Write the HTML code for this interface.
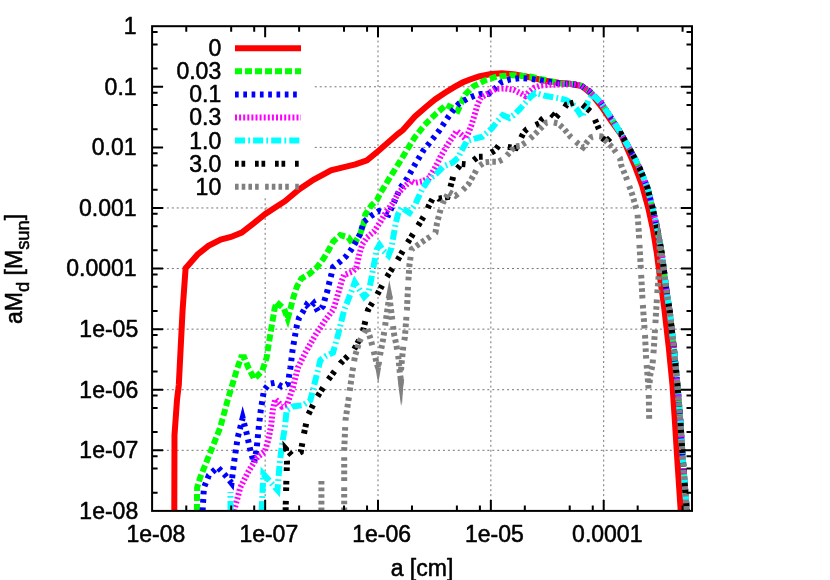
<!DOCTYPE html>
<html><head><meta charset="utf-8"><title>plot</title>
<style>
html,body{margin:0;padding:0;background:#fff;}
body{width:830px;height:580px;overflow:hidden;}
svg{display:block;}
text{font-family:"Liberation Sans",sans-serif;fill:#000;stroke:#000;stroke-width:0.55px;stroke-linejoin:round;}
.tx{opacity:0.999;}
</style></head><body>
<svg width="830" height="580" viewBox="0 0 830 580">
<rect x="0" y="0" width="830" height="580" fill="#ffffff"/>
<defs><clipPath id="plotclip"><rect x="152.1" y="26.2" width="539.9" height="484.7"/></clipPath></defs>

<g stroke="#000" stroke-opacity="0.55" stroke-width="1" stroke-dasharray="2 2.93" fill="none">
<line x1="152.1" y1="86.79" x2="692.0" y2="86.79"/>
<line x1="152.1" y1="147.38" x2="692.0" y2="147.38"/>
<line x1="152.1" y1="207.96" x2="692.0" y2="207.96"/>
<line x1="152.1" y1="268.55" x2="692.0" y2="268.55"/>
<line x1="152.1" y1="329.14" x2="692.0" y2="329.14"/>
<line x1="152.1" y1="389.72" x2="692.0" y2="389.72"/>
<line x1="152.1" y1="450.31" x2="692.0" y2="450.31"/>
<line x1="265.15" y1="510.9" x2="265.15" y2="26.2"/>
<line x1="378.00" y1="510.9" x2="378.00" y2="26.2"/>
<line x1="490.85" y1="510.9" x2="490.85" y2="26.2"/>
<line x1="603.70" y1="510.9" x2="603.70" y2="26.2"/>
</g>
<rect x="153.1" y="27.2" width="159.9" height="170.3" fill="#fff"/>
<g clip-path="url(#plotclip)" fill="none" stroke-width="6" stroke-linejoin="miter" stroke-miterlimit="10" stroke-linecap="butt">
<polyline stroke="#ff0000" points="174.3,512.0 174.5,435.0 177.0,400.0 178.8,385.0 182.6,310.0 185.6,268.2 197.6,254.5 208.4,245.8 220.7,239.6 230.9,237.0 241.7,232.6 253.3,223.6 265.3,214.0 277.9,205.8 285.0,201.2 299.0,189.5 313.4,179.8 331.0,170.4 343.0,167.3 355.4,164.4 367.0,160.3 378.3,151.0 398.0,133.8 402.9,130.0 415.0,116.5 425.0,107.7 435.0,99.5 445.0,92.8 455.0,86.7 463.0,82.3 470.0,79.5 479.0,76.3 491.0,74.0 502.1,73.2 515.1,74.4 529.6,77.3 544.1,80.5 558.6,82.7 570.0,83.7 581.7,86.0 591.4,93.8 601.8,107.1 611.6,121.5 621.2,134.8 629.7,154.1 634.5,165.0 642.0,185.0 648.2,207.6 653.1,230.2 656.8,252.7 659.7,275.3 662.9,297.8 664.5,310.0 668.8,347.6 672.5,385.2 675.0,422.8 677.0,455.0 680.8,512.0"/>
<polyline stroke="#00ff00" stroke-dasharray="7 3" points="196.9,511.0 197.1,487.7 200.1,477.7 210.2,452.6 220.2,427.6 227.7,400.0 232.6,383.8 236.9,369.5 241.2,357.2 244.2,357.2 248.5,368.0 254.3,378.9 262.2,370.9 266.6,357.9 268.8,343.4 271.7,326.1 274.6,308.7 276.7,302.2 284.0,308.7 287.7,318.6 290.5,308.7 292.6,300.0 294.0,295.3 296.9,286.6 301.3,278.6 309.9,273.6 317.2,267.0 323.7,258.4 328.8,249.7 333.1,241.7 340.3,235.2 348.3,237.4 353.5,244.8 359.9,234.5 363.5,224.3 365.3,214.5 371.1,205.8 376.9,200.0 380.0,193.8 388.7,179.4 398.8,163.4 407.5,149.0 414.7,137.4 424.5,125.1 436.1,113.6 446.2,104.9 457.8,110.7 465.0,94.7 473.7,86.1 485.3,80.3 496.9,76.6 511.3,75.2 530.0,76.6 545.0,80.0 560.0,83.5 572.0,84.0 581.0,85.5 589.8,91.6 601.3,103.2 610.0,116.2 620.0,132.1 628.0,146.0 634.5,158.0 640.0,169.0 647.5,188.0 652.5,207.6 657.5,230.2 661.7,252.7 664.5,275.3 667.5,297.8 669.6,310.0 673.8,347.6 677.5,385.2 680.5,422.8 682.5,455.0 686.8,511.0"/>
<polyline stroke="#0000ff" stroke-dasharray="3.7 4.6" points="202.6,511.0 203.9,487.7 208.9,475.2 217.7,467.2 225.2,475.2 231.5,483.0 234.0,462.7 237.7,437.6 242.7,418.0 246.5,432.6 250.3,450.1 254.0,463.0 256.5,450.1 259.0,425.1 260.8,410.0 264.0,390.2 269.0,383.9 275.3,382.7 281.6,386.4 287.8,383.9 290.4,367.6 292.6,350.0 294.8,337.0 297.0,325.0 299.2,317.4 302.2,313.0 306.5,305.2 309.4,308.1 313.8,303.3 318.1,311.5 323.0,306.2 324.9,299.0 327.3,291.2 329.2,283.0 331.2,275.3 333.1,267.0 339.6,262.0 346.1,256.2 351.2,249.7 355.5,242.4 359.9,234.5 363.9,221.7 371.1,215.9 379.0,211.0 388.5,214.5 392.8,205.0 400.3,188.0 407.5,177.9 414.7,164.9 423.4,150.4 428.8,143.8 439.0,130.9 447.6,117.9 453.4,109.9 459.2,103.4 467.9,98.4 475.1,95.5 480.9,94.0 488.2,94.0 495.4,88.2 501.2,82.4 509.9,79.5 520.0,78.1 530.0,78.8 545.0,81.0 560.0,83.5 572.0,84.0 581.0,85.5 589.8,91.6 601.3,103.2 610.0,116.2 620.0,132.1 628.0,146.0 634.5,158.0 640.0,169.0 647.5,188.0 652.5,207.6 657.5,230.2 661.7,252.7 664.5,275.3 667.5,297.8 669.6,310.0 673.8,347.6 677.5,385.2 680.5,422.8 682.5,455.0 686.8,511.0"/>
<polyline stroke="#ff00ff" stroke-dasharray="2 2.1" points="234.0,511.0 240.2,487.7 248.7,470.9 257.4,457.1 264.6,452.0 268.2,440.5 271.1,426.0 272.8,410.0 275.3,399.0 282.0,406.5 287.0,405.0 292.9,387.7 297.9,367.6 305.4,352.6 315.4,335.1 325.4,320.0 333.0,310.0 335.3,303.2 338.9,290.9 341.8,280.8 344.0,275.0 352.6,271.4 356.3,267.8 359.0,255.5 362.2,244.5 367.0,237.5 373.8,231.7 380.4,222.0 386.3,211.6 392.1,204.0 398.8,192.4 406.1,185.1 410.4,180.8 414.7,183.0 422.0,181.5 429.2,177.9 435.0,167.8 440.8,156.2 446.6,146.1 452.4,137.4 456.7,130.9 461.1,134.5 465.4,138.8 468.3,133.0 471.2,125.8 473.7,117.9 478.0,103.4 480.9,97.6 488.2,93.3 495.4,89.0 505.0,88.4 513.7,89.8 520.9,93.4 525.3,96.0 528.9,92.0 534.0,87.8 539.8,85.7 548.4,84.9 560.0,84.5 572.0,84.0 581.0,85.5 589.8,91.6 601.3,103.2 610.0,116.2 620.0,132.1 628.0,146.0 634.5,158.0 640.0,169.0 647.5,188.0 652.5,207.6 657.5,230.2 661.7,252.7 664.5,275.3 667.5,297.8 669.6,310.0 673.8,347.6 677.5,385.2 680.5,422.8 682.5,455.0 686.8,511.0"/>
<polyline stroke="#00ffff" stroke-dasharray="10 3.2 1.8 3.1" points="230.5,511.0 230.5,492.0"/>
<polyline stroke="#00ffff" stroke-dasharray="10 3.2 1.8 3.1" points="261.7,511.0 263.3,474.0 277.5,490.0 279.8,462.2 282.0,444.8 284.9,427.4 286.6,410.3 292.9,406.5 302.9,405.2 310.4,400.2 315.4,380.2 320.4,360.1 325.4,356.4 333.0,352.6 338.0,335.1 341.7,320.0 344.2,310.0 346.9,303.2 350.5,293.8 354.8,282.2 364.2,297.0 368.6,292.4 371.5,277.9 374.4,262.0 376.5,250.0 379.5,245.0 383.4,250.7 388.5,255.5 391.5,248.0 393.1,238.0 395.7,223.2 397.9,214.5 401.5,207.5 409.5,212.8 415.3,204.3 422.0,189.5 427.8,180.8 436.5,173.6 443.7,166.3 452.4,162.7 458.2,157.6 462.5,149.0 466.9,141.0 474.1,138.8 482.4,136.7 485.5,134.0 492.0,128.2 497.8,120.9 502.8,115.1 509.4,118.0 513.7,115.1 519.5,109.4 525.3,102.8 531.1,96.3 535.4,93.0 544.1,95.6 560.0,98.5 566.0,100.0 572.4,103.9 578.2,111.1 581.8,117.0 585.4,109.0 588.3,100.3 592.6,94.5 601.3,103.2 610.0,116.2 620.0,132.1 628.0,146.0 634.5,158.0 640.0,169.0 647.5,188.0 652.5,207.6 657.5,230.2 661.7,252.7 664.5,275.3 667.5,297.8 669.6,310.0 673.8,347.6 677.5,385.2 680.5,422.8 682.5,455.0 686.8,511.0"/>
<polyline stroke="#000000" stroke-dasharray="3.7 2.8 3.7 9.8" points="285.6,511.0 286.3,482.5 287.0,462.2 286.0,449.0 292.8,456.4 300.8,452.0 303.5,436.0 307.9,415.3 316.7,397.7 327.5,380.7 340.5,363.3 353.6,350.3 362.2,334.3 368.0,310.0 376.8,295.3 385.6,279.0 396.8,261.5 406.9,243.9 416.9,227.7 426.5,212.0 428.7,206.0 434.5,195.0 438.8,198.6 447.5,197.2 452.6,179.1 454.0,172.6 461.3,163.9 468.5,164.6 477.9,156.8 485.1,156.6 495.3,150.1 498.9,145.1 506.0,146.6 516.0,148.0 523.9,132.1 526.8,129.2 539.1,123.4 542.0,119.1 550.7,113.3 555.7,117.6 563.7,109.0 566.6,104.6 576.7,101.7 582.5,104.6 592.6,113.3 594.8,119.1 599.9,131.4 601.3,137.9 607.1,140.8 610.7,137.2 616.0,134.0 621.0,134.0 628.0,146.0 634.5,158.0 640.0,169.0 647.5,188.0 652.5,207.6 657.5,230.2 661.7,252.7 664.5,275.3 667.5,297.8 669.6,310.0 673.8,347.6 677.5,385.2 680.5,422.8 682.5,455.0 686.8,511.0"/>
<polyline stroke="#808080" stroke-dasharray="3.6 3.0" points="321.4,481.0 321.4,512.0"/>
<polyline stroke="#808080" stroke-dasharray="3.6 3.1 3.6 3.1 3.6 3.1 3.6 6.4" points="344.2,511.0 344.2,450.0 345.5,420.0 349.2,395.1 352.1,373.4 355.0,356.1 359.4,341.6 364.4,332.2 367.0,328.0 370.9,340.1 373.8,351.7 376.7,363.3 378.2,368.0 379.6,357.5 383.2,338.7 384.5,330.0 389.3,296.0 394.1,334.3 396.3,344.5 398.4,357.5 399.9,373.4 400.6,378.0 401.3,366.2 403.5,344.5 404.9,337.2 406.9,310.0 408.1,285.3 409.4,265.3 411.7,249.2 421.1,242.7 429.8,236.9 435.5,232.6 437.0,223.2 439.2,214.5 441.3,207.2 443.2,202.2 449.0,192.1 455.5,195.7 461.3,191.4 468.5,184.2 475.0,172.6 477.9,166.8 484.4,162.4 490.9,161.7 498.2,161.7 504.0,158.8 509.8,152.3 514.8,146.5 520.6,145.8 526.1,142.2 533.3,135.7 540.5,128.5 546.3,122.7 551.4,122.0 557.9,123.4 563.7,128.5 570.9,137.2 578.2,143.7 583.2,147.3 586.9,142.2 591.2,137.2 596.0,136.0 601.3,136.5 607.1,142.2 612.9,148.0 620.0,158.2 621.1,165.0 626.2,177.5 632.4,195.0 637.4,212.6 638.7,230.2 639.9,252.7 641.2,275.3 642.4,297.8 643.2,310.0 645.0,335.0 646.2,360.0 647.5,375.2 648.7,390.2 649.2,420.3"/>
<polyline stroke="#808080" stroke-dasharray="3.6 3.1 3.6 3.1 3.6 3.1 3.6 6.4" points="649.6,383.0 650.2,375.2 652.5,365.1 653.7,350.0 655.0,330.0 656.2,310.0 657.5,290.3 658.7,275.3 660.0,262.0 659.3,240.0 661.7,252.7 664.5,275.3 667.5,297.8 669.6,310.0 673.8,347.6 677.5,385.2 680.5,422.8 682.5,455.0 686.8,511.0"/>
</g>
<polygon fill="#00ff00" points="284.9,315.0 290.4,315.0 287.9,323.6"/>
<polygon fill="#808080" points="375.3,367.6 381.1,367.6 378.2,383.6"/>
<polygon fill="#808080" points="397.7,379.2 404.2,379.2 400.9,405.3"/>
<polygon fill="#808080" points="385.8,298.0 392.8,298.0 389.3,280.3"/>
<polygon fill="#808080" points="656.0,243.0 662.5,243.0 658.7,218.9"/>
<path d="M152.1 68.55h5.5 M692.0 68.55h-5.5 M152.1 44.44h5.5 M692.0 44.44h-5.5 M152.1 32.07h5.5 M692.0 32.07h-5.5 M152.1 86.79h11.0 M692.0 86.79h-11.0 M152.1 129.14h5.5 M692.0 129.14h-5.5 M152.1 105.03h5.5 M692.0 105.03h-5.5 M152.1 92.66h5.5 M692.0 92.66h-5.5 M152.1 147.38h11.0 M692.0 147.38h-11.0 M152.1 189.72h5.5 M692.0 189.72h-5.5 M152.1 165.61h5.5 M692.0 165.61h-5.5 M152.1 153.25h5.5 M692.0 153.25h-5.5 M152.1 207.96h11.0 M692.0 207.96h-11.0 M152.1 250.31h5.5 M692.0 250.31h-5.5 M152.1 226.20h5.5 M692.0 226.20h-5.5 M152.1 213.83h5.5 M692.0 213.83h-5.5 M152.1 268.55h11.0 M692.0 268.55h-11.0 M152.1 310.90h5.5 M692.0 310.90h-5.5 M152.1 286.79h5.5 M692.0 286.79h-5.5 M152.1 274.42h5.5 M692.0 274.42h-5.5 M152.1 329.14h11.0 M692.0 329.14h-11.0 M152.1 371.49h5.5 M692.0 371.49h-5.5 M152.1 347.38h5.5 M692.0 347.38h-5.5 M152.1 335.01h5.5 M692.0 335.01h-5.5 M152.1 389.72h11.0 M692.0 389.72h-11.0 M152.1 432.07h5.5 M692.0 432.07h-5.5 M152.1 407.96h5.5 M692.0 407.96h-5.5 M152.1 395.60h5.5 M692.0 395.60h-5.5 M152.1 450.31h11.0 M692.0 450.31h-11.0 M152.1 492.66h5.5 M692.0 492.66h-5.5 M152.1 468.55h5.5 M692.0 468.55h-5.5 M152.1 456.18h5.5 M692.0 456.18h-5.5 M186.27 510.9v-5.5 M186.27 26.2v5.5 M231.18 510.9v-5.5 M231.18 26.2v5.5 M254.21 510.9v-5.5 M254.21 26.2v5.5 M265.15 510.9v-11.0 M265.15 26.2v11.0 M299.12 510.9v-5.5 M299.12 26.2v5.5 M344.03 510.9v-5.5 M344.03 26.2v5.5 M367.06 510.9v-5.5 M367.06 26.2v5.5 M378.00 510.9v-11.0 M378.00 26.2v11.0 M411.97 510.9v-5.5 M411.97 26.2v5.5 M456.88 510.9v-5.5 M456.88 26.2v5.5 M479.91 510.9v-5.5 M479.91 26.2v5.5 M490.85 510.9v-11.0 M490.85 26.2v11.0 M524.82 510.9v-5.5 M524.82 26.2v5.5 M569.73 510.9v-5.5 M569.73 26.2v5.5 M592.76 510.9v-5.5 M592.76 26.2v5.5 M603.70 510.9v-11.0 M603.70 26.2v11.0 M637.67 510.9v-5.5 M637.67 26.2v5.5 M682.58 510.9v-5.5 M682.58 26.2v5.5" stroke="#000" stroke-width="2" fill="none"/>
<rect x="152.1" y="26.2" width="539.9" height="484.7" fill="none" stroke="#000" stroke-width="2"/>
<g fill="none" stroke-width="6" stroke-linecap="butt">
<line x1="235" y1="48.2" x2="301" y2="48.2" stroke="#ff0000"/>
<line x1="235" y1="71.3" x2="301" y2="71.3" stroke="#00ff00" stroke-dasharray="7 3"/>
<line x1="235" y1="94.4" x2="301" y2="94.4" stroke="#0000ff" stroke-dasharray="3.7 4.6"/>
<line x1="235" y1="117.5" x2="301" y2="117.5" stroke="#ff00ff" stroke-dasharray="2 2.1"/>
<line x1="235" y1="140.6" x2="301" y2="140.6" stroke="#00ffff" stroke-dasharray="10 3.2 1.8 3.1"/>
<line x1="235" y1="163.7" x2="301" y2="163.7" stroke="#000000" stroke-dasharray="3.7 2.8 3.7 9.8"/>
<line x1="235" y1="186.8" x2="301" y2="186.8" stroke="#808080" stroke-dasharray="3.6 3.1 3.6 3.1 3.6 3.1 3.6 6.4"/>
</g>
<g class="tx">
<g font-size="23px" text-anchor="end">
<text x="221.2" y="56.1">0</text>
<text x="221.2" y="79.2">0.03</text>
<text x="221.2" y="102.3">0.1</text>
<text x="221.2" y="125.4">0.3</text>
<text x="221.2" y="148.5">1.0</text>
<text x="221.2" y="171.6">3.0</text>
<text x="221.2" y="194.7">10</text>
</g>
<g font-size="23px" text-anchor="end">
<text x="136.6" y="34.1">1</text>
<text x="136.6" y="94.7">0.1</text>
<text x="136.6" y="155.3">0.01</text>
<text x="136.6" y="215.9">0.001</text>
<text x="136.6" y="276.4">0.0001</text>
<text x="138.2" y="337.0">1e-05</text>
<text x="138.2" y="397.6">1e-06</text>
<text x="138.2" y="458.2">1e-07</text>
<text x="138.2" y="518.8">1e-08</text>
</g>
<g font-size="23px" text-anchor="middle">
<text x="155.9" y="541.5">1e-08</text>
<text x="268.8" y="541.5">1e-07</text>
<text x="381.6" y="541.5">1e-06</text>
<text x="494.4" y="541.5">1e-05</text>
<text x="607.3" y="541.5">0.0001</text>
</g>
<text x="422" y="575.5" font-size="23px" text-anchor="middle">a [cm]</text>
<g transform="translate(22,324) rotate(-90)"><text x="0" y="0" font-size="23px">aM<tspan font-size="18.4px" dy="6.6">d</tspan><tspan dy="-6.6"> [M</tspan><tspan font-size="18.4px" dy="6.6">sun</tspan><tspan dy="-6.6">]</tspan></text></g>
</g>
</svg></body></html>
